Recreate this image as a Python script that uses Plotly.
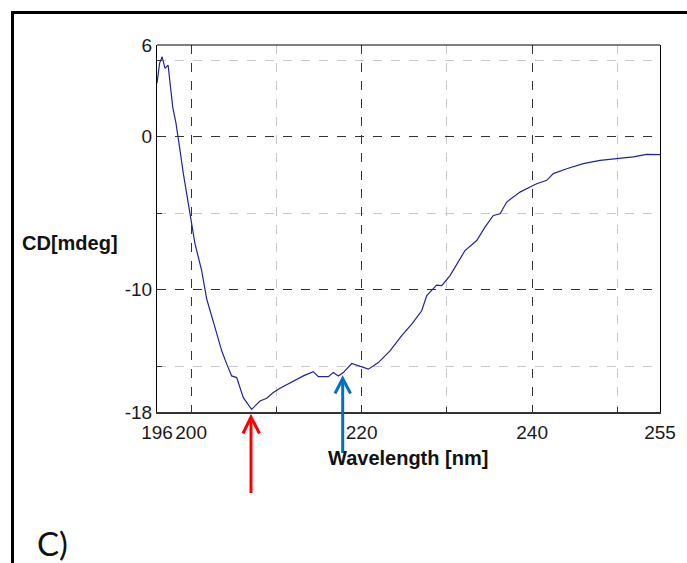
import plotly.graph_objects as go

# ---- data ----
wavelength = [196.0, 196.3, 196.6, 196.94, 197.3, 197.84, 198.23, 198.5, 198.7, 199.09,
              199.28, 199.87, 200.46, 201.24, 201.83, 202.8, 203.59, 204.18, 204.76, 205.35,
              206.12, 207.1, 208.08, 208.87, 209.64, 210.43, 211.6, 213.16, 214.33, 214.92,
              216.09, 216.68, 217.27, 217.85, 218.84, 219.6, 220.79, 221.96, 223.33, 224.7,
              225.88, 227.05, 227.64, 228.8, 229.4, 230.37, 231.16, 232.13, 233.5, 234.47,
              235.45, 236.24, 237.02, 237.8, 238.58, 239.75, 240.54, 241.71, 242.49, 244.06,
              246.0, 247.97, 249.92, 251.87, 253.44, 255.0]
cd = [3.5, 4.8, 5.23, 4.47, 4.69, 1.95, 0.87, 0.0, -0.89, -2.41,
      -3.07, -4.93, -7.0, -8.75, -10.61, -12.47, -14.0, -14.87, -15.64, -15.75,
      -17.06, -17.83, -17.28, -17.1, -16.73, -16.45, -16.08, -15.64, -15.36, -15.69,
      -15.69, -15.42, -15.64, -15.42, -14.83, -14.98, -15.2, -14.77, -14.0, -13.0,
      -12.25, -11.38, -10.39, -9.7, -9.74, -9.08, -8.31, -7.44, -6.79, -5.91,
      -5.15, -5.04, -4.27, -3.95, -3.62, -3.29, -3.07, -2.85, -2.41, -2.09,
      -1.76, -1.54, -1.43, -1.32, -1.15, -1.17]

x_ticks = [196, 200, 220, 240, 255]
x_minor = [210, 230, 250]
y_ticks = [6, 0, -10, -18]
y_minor = [5, -5, -15]

# ---- layout geometry (pixels) ----
W, H = 687, 563
L, R, T, B = 157, 27, 45, 151
PW, PH = W - L - R, H - T - B


def P(px, py):
    return (px - L) / PW, (H - B - py) / PH


def path(points):
    s = ""
    for i, (px, py) in enumerate(points):
        x, y = P(px, py)
        s += ("M" if i == 0 else "L") + f"{x:.5f},{y:.5f} "
    return s.strip()


fig = go.Figure()
fig.add_trace(go.Scatter(x=wavelength, y=cd, mode="lines",
                         line=dict(color="#23239a", width=1.2), showlegend=False))

tickfont = dict(family="Liberation Sans, Arial", size=19, color="#1a1a1a")

fig.update_xaxes(range=[196, 255], tickmode="array", tickvals=x_ticks,
                 ticktext=[str(v) for v in x_ticks], tickangle=0,
                 ticks="inside", ticklen=5, tickcolor="#333",
                 showline=True, linecolor="#333", linewidth=2, mirror=False,
                 showgrid=True, gridcolor="#333", griddash="dash", gridwidth=1,
                 minor=dict(tickvals=x_minor, ticks="inside", ticklen=5, tickcolor="#333",
                            showgrid=True, gridcolor="#c8c8c8", griddash="dash", gridwidth=1),
                 tickfont=tickfont, zeroline=False, ticklabelstandoff=2)
fig.update_yaxes(range=[-18, 6], tickmode="array", tickvals=y_ticks,
                 ticktext=[str(v) for v in y_ticks],
                 ticks="inside", ticklen=5, tickcolor="#333",
                 showline=True, linecolor="black", linewidth=1, mirror=True,
                 showgrid=True, gridcolor="#333", griddash="dash", gridwidth=1,
                 minor=dict(tickvals=y_minor, ticks="inside", ticklen=5, tickcolor="#333",
                            showgrid=True, gridcolor="#c8c8c8", griddash="dash", gridwidth=1),
                 tickfont=tickfont, zeroline=False)

shapes = [
    # top border of plot box
    dict(type="line", xref="paper", yref="paper", x0=0, x1=1, y0=1, y1=1,
         line=dict(color="black", width=1)),
    # outer frame
    dict(type="path", xref="paper", yref="paper",
         path=path([(12.5, 600), (12.5, 12.5), (720, 12.5)]),
         line=dict(color="black", width=3)),
    # red arrow
    dict(type="path", xref="paper", yref="paper",
         path=path([(251, 493), (251, 418)]), line=dict(color="#ff0000", width=3)),
    dict(type="path", xref="paper", yref="paper",
         path=path([(243, 433.5), (251, 417), (259.5, 433.5)]),
         line=dict(color="#ff0000", width=3)),
    # blue arrow
    dict(type="path", xref="paper", yref="paper",
         path=path([(342.7, 453), (342.7, 380)]), line=dict(color="#0070c0", width=3)),
    dict(type="path", xref="paper", yref="paper",
         path=path([(335, 393.5), (342.7, 378.5), (350.5, 393.5)]),
         line=dict(color="#0070c0", width=3)),
]

ax, ay = P(70, 243)
bx, by = P(408, 458)
cx, cy = P(35, 543)
annotations = [
    dict(text="<b>CD[mdeg]</b>", x=ax, y=ay, xref="paper", yref="paper",
         showarrow=False, xanchor="center", yanchor="middle",
         font=dict(family="Liberation Sans, Arial", size=20, color="#111")),
    dict(text="<b>Wavelength [nm]</b>", x=bx, y=by, xref="paper", yref="paper",
         showarrow=False, xanchor="center", yanchor="middle",
         font=dict(family="Liberation Sans, Arial", size=20, color="#111")),
    dict(text="C)", x=cx, y=cy, xref="paper", yref="paper",
         showarrow=False, xanchor="left", yanchor="middle",
         font=dict(family="Lato, Open Sans", size=33, color="#111")),
]

fig.update_layout(width=W, height=H, margin=dict(l=L, r=R, t=T, b=B, pad=0),
                  paper_bgcolor="white", plot_bgcolor="white",
                  shapes=shapes, annotations=annotations, showlegend=False)

fig.write_html("out.html", config={"displayModeBar": False},
               post_script="document.body.style.margin='0';document.body.style.overflow='hidden';")
